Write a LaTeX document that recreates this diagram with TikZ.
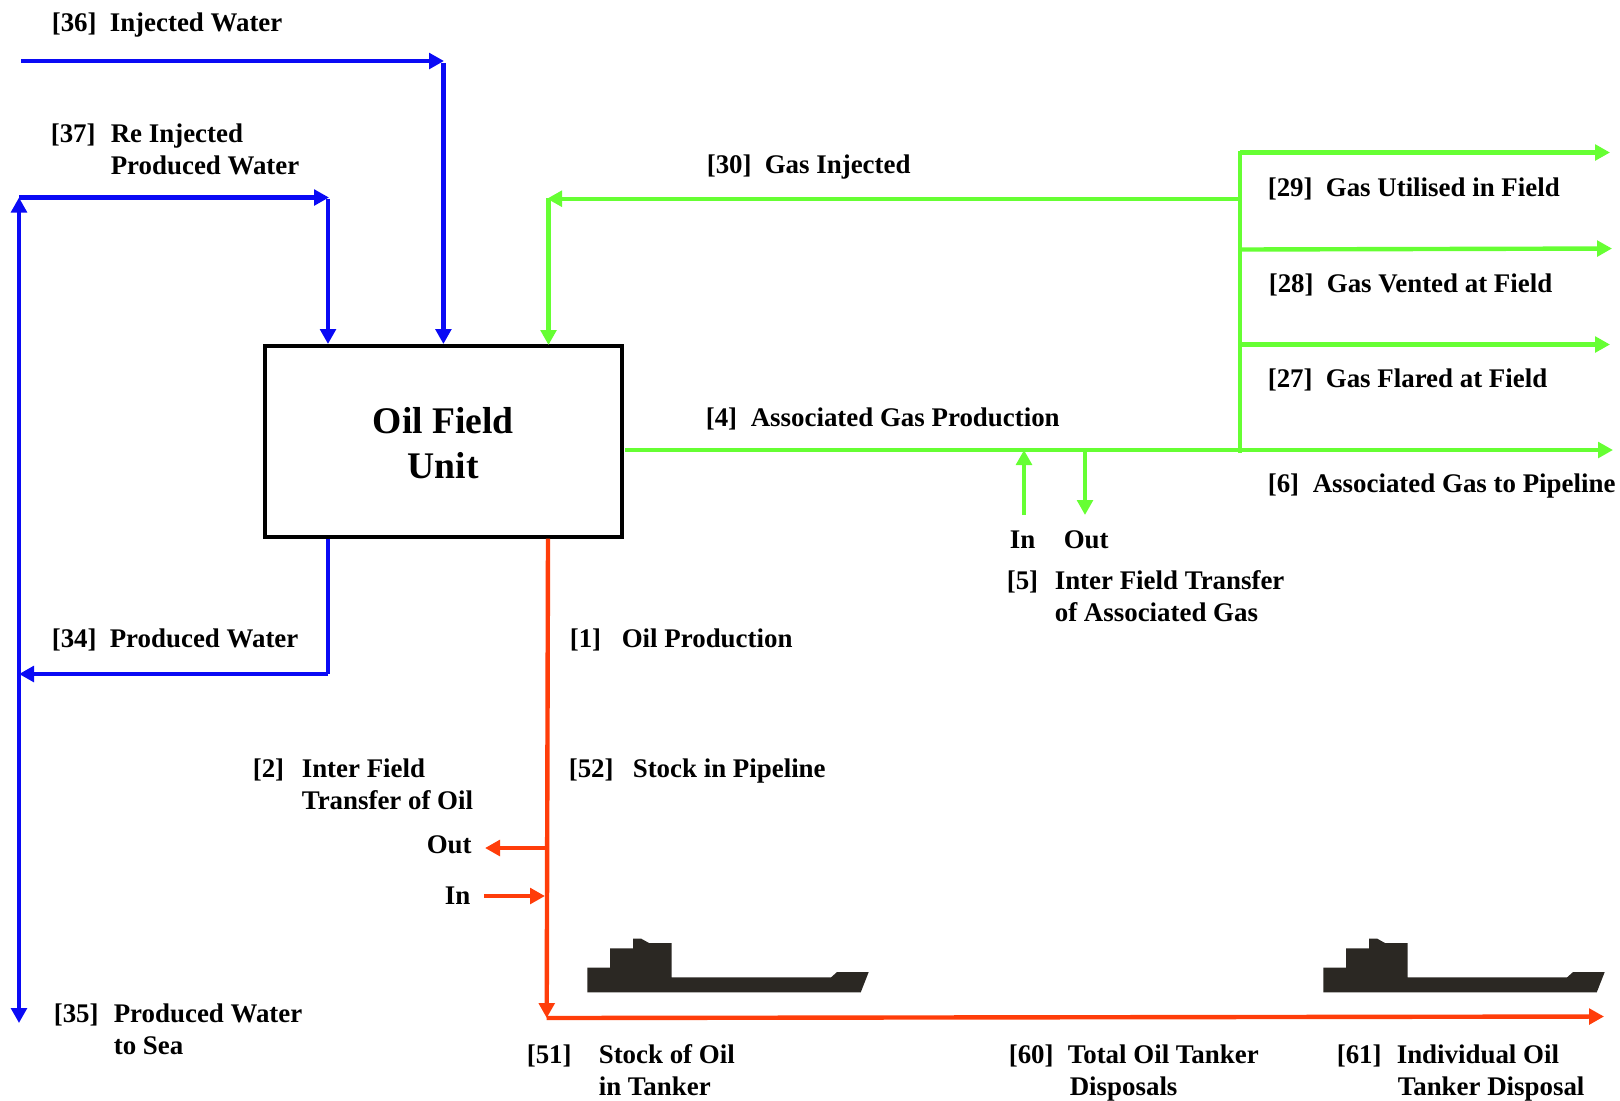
\documentclass[tikz,border=0pt]{standalone}
\usepackage{fontspec}
\setmainfont{Liberation Serif}
\usetikzlibrary{arrows.meta,calc}
\definecolor{bluef}{HTML}{0A0AF5}
\definecolor{greenf}{HTML}{66FF33}
\definecolor{redf}{HTML}{FF3D0A}
\definecolor{shipc}{HTML}{2B2823}
\tikzset{
  lbl/.style={anchor=base west,inner sep=0pt,xshift=-.3pt,font=\fontsize{13.45}{16}\selectfont\bfseries},
  flow/.style={line width=2.2pt,line cap=butt},
  bflow/.style={flow,draw=bluef},
  gflow/.style={flow,draw=greenf},
  rflow/.style={flow,draw=redf},
  tip/.style={-{Triangle[length=7.5pt,width=7.8pt]}},
  twotip/.style={{Triangle[length=7.5pt,width=7.8pt]}-{Triangle[length=7.5pt,width=7.8pt]}},
  unitbox/.style={draw=black,line width=2pt,minimum width=178.6pt,minimum height=95.2pt,align=center,inner sep=0pt,font=\fontsize{18.8}{22}\selectfont\bfseries},
  shipshape/.style={fill=shipc,draw=none}
}
\begin{document}
\begin{tikzpicture}[x=.5pt,y=-.5pt]
\useasboundingbox (0,0) rectangle (1620,1100);
\node[unitbox] (box) at (443.3,441.3) {\rule{0pt}{15pt}Oil Field\\[.5pt]Unit};

% blue coordinates
\coordinate (w36s) at (21,61);
\coordinate (w36c) at (444,61);
\coordinate (w37l) at (19,197.5);
\coordinate (w37c) at (329,197.5);
\coordinate (w34c) at (328,674);
\coordinate (w34l) at (19,674);
\coordinate (w35e) at (19,1023);

\draw[bflow,tip] (w36s) -- (w36c);
\draw[bflow,tip] (w36c |- 0,63) ++(-.6,0) -- (443.4,344);
\draw[bflow,tip] (w37l) -- (w37c);
\draw[bflow,tip] (328,199) -- (328 ,344);
\draw[bflow,twotip] (w37l) -- (w35e);
\draw[bflow] (box.south -| w34c) -- (w34c);
\draw[bflow,tip] (w34c) -- (w34l);

% green coordinates
\coordinate (gbt) at (1240,151);
\coordinate (gbb) at (1240,453);
\coordinate (g30r) at (1240,198.7);
\coordinate (g30l) at (547,198.7);
\coordinate (g29) at (1610,152.5);
\coordinate (g28) at (1612,248.5);
\coordinate (g27) at (1610,344.5);
\coordinate (g6) at (1613,450);
\coordinate (gin) at (1024,515);
\coordinate (gout) at (1085,515);
\draw[gflow] (gbt) -- (gbb);
\draw[gflow,tip] (g30r) -- (g30l);
\draw[gflow,tip] (548.5,198) -- (548.5,345);
\draw[gflow,tip] (1240,152.5) -- (g29);
\draw[gflow,tip] (1240,249.5) -- (g28);
\draw[gflow,tip] (1242,344.5) -- (g27);
\draw[gflow,tip] (box.east |- g6) ++(1,0) -- (g6);
\draw[gflow,tip] (gin) -- (gin |- g6);
\draw[gflow,tip] (gout |- g6) -- (gout);

% red coordinates
\coordinate (rc) at (546.7,1018);
\coordinate (re) at (1604,1016.5);
\coordinate (ro1) at (546,848);
\coordinate (ro2) at (485,848);
\coordinate (ri1) at (484,896);
\coordinate (ri2) at (545,896);
\draw[rflow,tip] (box.south -| 548,0) -- (rc);
\draw[rflow,tip] (rc) -- (re);
\draw[rflow,tip] (ro1) -- (ro2);
\draw[rflow,tip] (ri1) -- (ri2);

% tankers
\foreach \dx in {0,736}{
  \begin{scope}[shift={(\dx,.7)}]
  \fill[shipshape] (587.3,991.7) -- (587.3,967) -- (610,967) -- (610,947.7) -- (633,947.7) -- (633,938) -- (641.3,938) -- (649,942.3) -- (671.7,942.3) -- (671.7,976.7) -- (831,976.7) -- (837,971.3) -- (868.7,971.3) -- (860.7,991.7) -- cycle;
  \end{scope}
}

% labels
\node[lbl] (n36) at (52,31) {[36]};
\node[lbl] (t36) at (110,31) {Injected Water};
\node[lbl] (n37) at (51,142) {[37]};
\node[lbl] (t37a) at (111,142) {Re Injected};
\node[lbl] (t37b) at (111,174) {Produced Water};
\node[lbl] (n30) at (707,173) {[30]};
\node[lbl] (t30) at (765,173) {Gas Injected};
\node[lbl] (n29) at (1268,196) {[29]};
\node[lbl] (t29) at (1326,196) {Gas Utilised in Field};
\node[lbl] (n28) at (1269,292) {[28]};
\node[lbl] (t28) at (1327,292) {Gas Vented at Field};
\node[lbl] (n27) at (1268,387) {[27]};
\node[lbl] (t27) at (1326,387) {Gas Flared at Field};
\node[lbl] (n6) at (1268,492) {[6]};
\node[lbl] (t6) at (1313,492) {Associated Gas to Pipeline};
\node[lbl] (n4) at (706,426) {[4]};
\node[lbl] (t4) at (751,426) {Associated Gas Production};
\node[lbl] (lin5) at (1010,548) {In};
\node[lbl] (lout5) at (1064,548) {Out};
\node[lbl] (n5) at (1007,589) {[5]};
\node[lbl] (t5a) at (1055,589) {Inter Field Transfer};
\node[lbl] (t5b) at (1055,621) {of Associated Gas};
\node[lbl] (n1) at (570,647) {[1]};
\node[lbl] (t1) at (622,647) {Oil Production};
\node[lbl] (n34) at (52,647) {[34]};
\node[lbl] (t34) at (110,647) {Produced Water};
\node[lbl] (n2) at (253,777) {[2]};
\node[lbl] (t2a) at (302,777) {Inter Field};
\node[lbl] (t2b) at (302,809) {Transfer of Oil};
\node[lbl] (n52) at (569,777) {[52]};
\node[lbl] (t52) at (633,777) {Stock in Pipeline};
\node[lbl] (lout2) at (427,853) {Out};
\node[lbl] (lin2) at (445,904) {In};
\node[lbl] (n35) at (54,1022) {[35]};
\node[lbl] (t35a) at (114,1022) {Produced Water};
\node[lbl] (t35b) at (114,1054) {to Sea};
\node[lbl] (n51) at (527,1063) {[51]};
\node[lbl] (t51a) at (599,1063) {Stock of Oil};
\node[lbl] (t51b) at (599,1095) {in Tanker};
\node[lbl] (n60) at (1009,1063) {[60]};
\node[lbl] (t60a) at (1068,1063) {Total Oil Tanker};
\node[lbl] (t60b) at (1070,1095) {Disposals};
\node[lbl] (n61) at (1337,1063) {[61]};
\node[lbl] (t61a) at (1397,1063) {Individual Oil};
\node[lbl] (t61b) at (1398,1095) {Tanker Disposal};
\end{tikzpicture}
\end{document}
